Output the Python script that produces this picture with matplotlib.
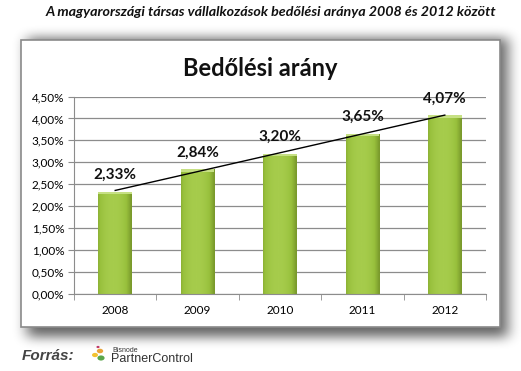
import numpy as np
import matplotlib
matplotlib.use("Agg")
import matplotlib.pyplot as plt
from matplotlib.patches import Rectangle, Circle
from matplotlib.ticker import FuncFormatter, MultipleLocator

years = ["2008", "2009", "2010", "2011", "2012"]
rates = [2.33, 2.84, 3.20, 3.65, 4.07]   # percent

suptitle = "A magyarországi társas vállalkozások bedőlési aránya 2008 és 2012 között"
chart_title = "Bedőlési arány"

plt.rcParams["font.family"] = ["Lato", "DejaVu Sans"]

W, H = 521, 371
fig = plt.figure(figsize=(W / 100, H / 100), dpi=100)
fig.patch.set_facecolor("white")


def fx(px):
    return px / W


def fy(py):
    return 1 - py / H


def box_blur(a, r, axis):
    k = np.ones(2 * r + 1) / (2 * r + 1)
    return np.apply_along_axis(lambda m: np.convolve(m, k, mode="same"), axis, a)


# blurred drop shadow behind the chart frame (right / bottom heavy)
mask = np.zeros((H, W))
mask[38:337, 27:508] = 1.0
for _ in range(3):
    mask = box_blur(mask, 6, 1)
    mask = box_blur(mask, 5, 0)
shadow = np.zeros((H, W, 4))
shadow[..., 3] = 0.6 * mask
bg = fig.add_axes([0, 0, 1, 1], zorder=0)
bg.imshow(shadow, extent=(0, W, H, 0), aspect="auto", interpolation="bilinear")
bg.set_xlim(0, W)
bg.set_ylim(H, 0)
bg.axis("off")
bg.add_patch(Rectangle((21, 40), 479, 287, facecolor="white",
                       edgecolor="#8a8a8a", linewidth=1.2, zorder=2))

fig.text(fx(271), fy(12), suptitle, ha="center", va="center", fontsize=10.3,
         fontweight="bold", fontstyle="italic", color="#111111")
fig.text(fx(260), fy(68), chart_title, ha="center", va="center", fontsize=17,
         fontweight="bold", color="#111111", zorder=3)

ax = fig.add_axes([fx(74), fy(294), fx(412), 197.5 / H], zorder=2)
ax.set_facecolor("none")
x = np.arange(len(years))
bw = 0.41

# gradient bars: darker at both edges, lighter centre
t = np.linspace(0, 1, 64)
profile = 1 - np.abs(t - 0.45) ** 2.2 * 2.2
cmap = matplotlib.colors.LinearSegmentedColormap.from_list(
    "g", ["#7a9a2c", "#98c03c", "#a6cc4c"])
for xi, v in zip(x, rates):
    bar = ax.bar(xi, v, width=bw, color="#9cc23f", edgecolor="none", zorder=2)[0]
    img = ax.imshow(profile[None, :], cmap=cmap, vmin=0.45, vmax=1.0, aspect="auto",
                    extent=(xi - bw / 2, xi + bw / 2, 0, v), zorder=2.1)
    img.set_clip_path(bar)
    ax.add_patch(Rectangle((xi - bw / 2, v - 0.05), bw, 0.05, facecolor="#c6e084",
                           edgecolor="none", zorder=2.2))
    ax.annotate(f"{v:.2f}%".replace(".", ","), (xi, v), xytext=(0, 7),
                textcoords="offset points", ha="center", va="bottom",
                fontsize=11, fontweight="bold", color="#111111", zorder=4)

# linear trend line
k, b = np.polyfit(x, rates, 1)
ax.plot(x, k * x + b, color="black", linewidth=1.0, zorder=3)

ax.set_xlim(-0.5, len(years) - 0.5)
ax.set_ylim(0, 4.5)
ax.yaxis.set_major_locator(MultipleLocator(0.5))
ax.yaxis.set_major_formatter(FuncFormatter(lambda v, p: f"{v:.2f}%".replace(".", ",")))
ax.yaxis.grid(True, color="#8c8c8c", linewidth=0.9, zorder=0)
ax.set_axisbelow(True)
ax.set_xticks(x)
ax.set_xticklabels(years)
ax.set_xticks(np.arange(-0.5, len(years)), minor=True)
ax.tick_params(axis="x", which="major", length=0, pad=8, labelsize=8.5)
ax.tick_params(axis="x", which="minor", length=4, color="#8c8c8c", direction="out")
ax.tick_params(axis="y", length=4, color="#8c8c8c", labelsize=8.5, pad=3)
for s in ["top", "right"]:
    ax.spines[s].set_visible(False)
ax.spines["left"].set_color("#8c8c8c")
ax.spines["bottom"].set_color("#8c8c8c")

# source line
fig.text(fx(22), fy(356), "Forrás:", ha="left", va="center", fontsize=11,
         fontweight="bold", fontstyle="italic", color="#444444",
         family=["Liberation Sans", "DejaVu Sans"])
for cx, cy, r, c in [(100, 351, 3.2, "#e8a33a"), (95, 355, 3.0, "#f2c230"),
                     (101, 358, 3.6, "#5aa64a"), (98, 347, 1.6, "#c03a6a")]:
    fig.patches.append(Circle((fx(cx), fy(cy)), r / W, transform=fig.transFigure,
                              facecolor=c, edgecolor="none", zorder=3))
fig.text(fx(112), fy(350), "Bisnode", ha="left", va="center", fontsize=5,
         color="#333333", family=["Liberation Sans", "DejaVu Sans"])
fig.text(fx(111), fy(359), "PartnerControl", ha="left", va="center", fontsize=9,
         color="#333333", family=["Liberation Sans", "DejaVu Sans"])

fig.savefig("out.png", dpi=100)
